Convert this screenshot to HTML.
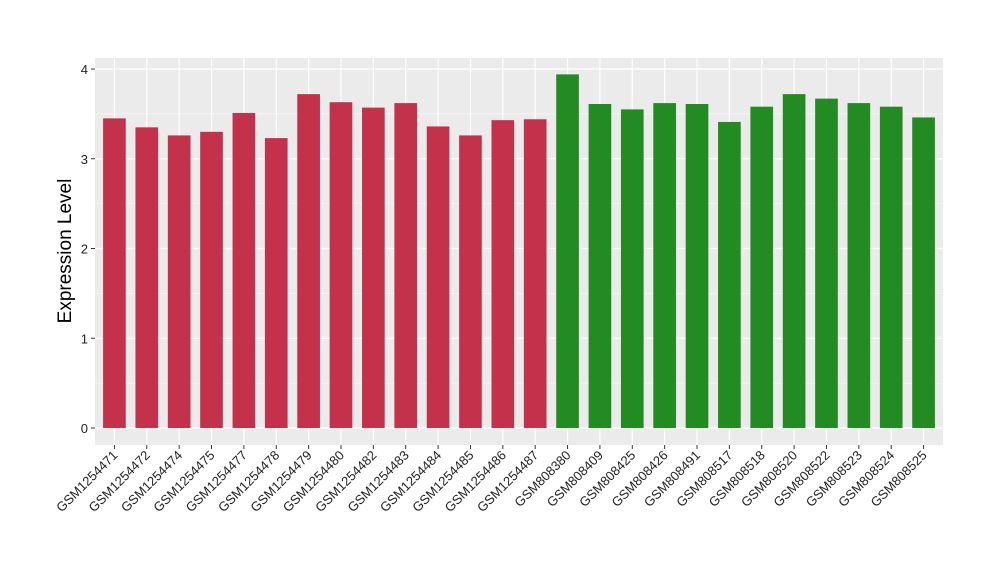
<!DOCTYPE html>
<html><head><meta charset="utf-8"><style>
body{margin:0;background:#fff;}
text{font-family:"Liberation Sans",sans-serif;}
</style></head><body>
<svg id="chart" width="1000" height="580" xmlns="http://www.w3.org/2000/svg">
<rect x="0" y="0" width="1000" height="580" fill="#fff"/>
<rect x="95" y="58" width="848" height="387" fill="#ebebeb"/>
<g id="grid"></g>
<g id="bars"></g>
<g id="yaxis"></g>
<g id="xaxis"></g>
<text transform="translate(71,251) rotate(-90)" text-anchor="middle" font-size="19" fill="#000">Expression Level</text>
</svg>
<script>
const categories=["GSM1254471","GSM1254472","GSM1254474","GSM1254475","GSM1254477","GSM1254478","GSM1254479","GSM1254480","GSM1254482","GSM1254483","GSM1254484","GSM1254485","GSM1254486","GSM1254487","GSM808380","GSM808409","GSM808425","GSM808426","GSM808491","GSM808517","GSM808518","GSM808520","GSM808522","GSM808523","GSM808524","GSM808525"];
const values=[3.45,3.35,3.26,3.30,3.51,3.23,3.72,3.63,3.57,3.62,3.36,3.26,3.43,3.44,3.94,3.61,3.55,3.62,3.61,3.41,3.58,3.72,3.67,3.62,3.58,3.46];
const groups=["a","a","a","a","a","a","a","a","a","a","a","a","a","a","b","b","b","b","b","b","b","b","b","b","b","b"];
const yTicks=[0,1,2,3,4];
const colors={a:"#c3314b",b:"#228b22"};
const NS="http://www.w3.org/2000/svg";
const px0=95,pw=848,y0=428,yUnit=89.75;
const step=pw/(categories.length-1+1.2);
const xs=i=>px0+(i+0.6)*step;
const ys=v=>y0-v*yUnit;
function mk(t,a,p){const e=document.createElementNS(NS,t);for(const k in a)e.setAttribute(k,a[k]);p.appendChild(e);return e;}
const grid=document.getElementById('grid'),bars=document.getElementById('bars'),ya=document.getElementById('yaxis'),xa=document.getElementById('xaxis');
for(let k=0;k<yTicks.length;k++){const v=yTicks[k];
 if(k<yTicks.length-1){const m=mk('line',{x1:95,x2:943,y1:ys(v+0.5),y2:ys(v+0.5),stroke:'#fff','stroke-width':0.6},grid);
 
 }
 const g=mk('line',{x1:95,x2:943,y1:ys(v),y2:ys(v),stroke:'#fff','stroke-width':1.2},grid);
 
 
 const t=mk('line',{x1:91,x2:95,y1:ys(v),y2:ys(v),stroke:'#333','stroke-width':1},ya);
 
 
 const l=mk('text',{x:88,y:ys(v)+5,'text-anchor':'end','font-size':13,fill:'#222'},ya);
 l.textContent=v;
 
 
}
categories.forEach((c,i)=>{
 const g=mk('line',{x1:xs(i),x2:xs(i),y1:58,y2:445,stroke:'#fff','stroke-width':1.2},grid);
 
 
 const bw=step*0.7;
 const r=mk('rect',{x:xs(i)-bw/2,y:ys(values[i]),width:bw,height:ys(0)-ys(values[i]),fill:colors[groups[i]]},bars);
 
 
 const t=mk('line',{x1:xs(i),x2:xs(i),y1:445,y2:449,stroke:'#333','stroke-width':1},xa);
 
 
 const l=mk('text',{x:xs(i)+4,y:456,'text-anchor':'end','font-size':13,fill:'#222',transform:`rotate(-45 ${xs(i)+4} 456)`},xa);
 l.textContent=c;
 
 
});
</script>
</body></html>
